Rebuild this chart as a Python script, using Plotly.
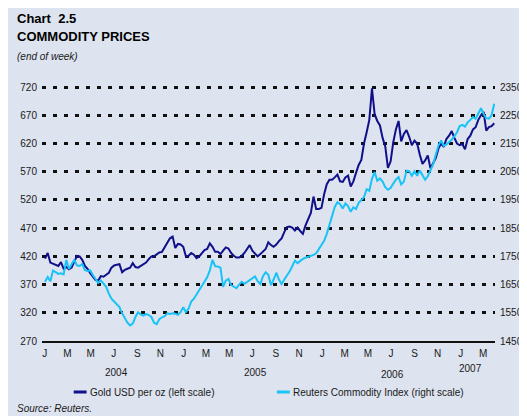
import pandas as pd
import plotly.graph_objects as go

# ---------------- data ----------------
week_ending = pd.date_range("2004-01-02", periods=170, freq="7D")

gold_usd = [
    416, 426, 409, 407, 405, 403, 410, 398, 401, 397,
    400, 412, 421, 420, 414, 403, 398, 390, 383, 378,
    377, 385, 384, 387, 391, 400, 404, 405, 406, 392,
    396, 398, 400, 408, 401, 400, 403, 406, 409, 415,
    420, 420, 423, 427, 428, 436, 445, 452, 455, 435,
    442, 441, 437, 420, 421, 426, 423, 417, 420, 425,
    431, 433, 443, 437, 428, 428, 424, 430, 436, 434,
    426, 421, 418, 418, 421, 426, 433, 440, 430, 424,
    420, 424, 429, 433, 445, 440, 437, 441, 447, 452,
    463, 472, 473, 471, 466, 471, 465, 460, 475, 485,
    497, 526, 504, 504, 506, 530, 548, 556, 556, 560,
    565, 553, 552, 560, 563, 544, 553, 568, 582, 591,
    620, 640, 662, 718, 672, 660, 652, 630, 615, 577,
    588, 622, 645, 660, 624, 637, 644, 632, 617, 625,
    620, 600, 584, 590, 599, 576, 586, 594, 611, 620,
    614, 628, 634, 642, 630, 620, 617, 619, 610, 628,
    634, 645, 649, 662, 670, 676, 643, 649, 651, 656,
]

reuters_index = [
    1660, 1677, 1662, 1700, 1694, 1688, 1690, 1686, 1737, 1705,
    1722, 1738, 1718, 1716, 1723, 1701, 1698, 1700, 1684, 1670,
    1656, 1665, 1655, 1642, 1618, 1600, 1590, 1578, 1570, 1548,
    1530, 1515, 1505, 1512, 1535, 1552, 1544, 1540, 1546, 1542,
    1535, 1515, 1510, 1527, 1534, 1538, 1548, 1546, 1548, 1547,
    1543, 1552, 1570, 1552, 1565, 1590, 1600, 1615, 1632, 1648,
    1664, 1676, 1700, 1738, 1715, 1714, 1710, 1642, 1664, 1670,
    1648, 1642, 1637, 1650, 1660, 1653, 1660, 1668, 1673, 1679,
    1662, 1652, 1680, 1694, 1685, 1648, 1668, 1692, 1668, 1652,
    1668, 1680, 1696, 1715, 1735, 1726, 1735, 1741, 1745, 1748,
    1750, 1755, 1761, 1775, 1790, 1805, 1830, 1860, 1895, 1925,
    1942, 1935, 1920, 1938, 1928, 1908, 1924, 1918, 1940, 1950,
    1960, 1988, 1982, 2025, 2049, 2018, 2026, 2015, 1995, 1986,
    1992, 2008, 2022, 2031, 2005, 2015, 2054, 2052, 2036, 2052,
    2036, 2054, 2040, 2022, 2034, 2058, 2076, 2110, 2143, 2161,
    2142, 2147, 2155, 2163, 2176, 2190, 2212, 2216, 2210, 2225,
    2234, 2244, 2238, 2255, 2275, 2255, 2240, 2238, 2250, 2291,
]

month_tick_dates = pd.date_range("2004-01-01", "2007-03-01", freq="2MS")
month_tick_labels = ["J", "M", "M", "J", "S", "N"] * 3 + ["J", "M"]
year_labels = ["2004", "2005", "2006", "2007"]
year_label_dates = ["2004-07-08", "2005-07-08", "2006-07-04", "2007-01-27"]
left_ticks = [270, 320, 370, 420, 470, 520, 570, 620, 670, 720]
right_ticks = [1450, 1550, 1650, 1750, 1850, 1950, 2050, 2150, 2250, 2350]

series_names = ["Gold USD per oz (left scale)", "Reuters Commodity Index (right scale)"]

# ---------------- styles / layout ----------------
WIDTH, HEIGHT = 527, 416
OFF = 8  # page body margin: page coords = figure coords + 8
L, R, T, B = 32, 38, 78, 83
W = WIDTH - L - R
H = HEIGHT - T - B

BG = "#dde3ef"
GOLD_C = "#10108a"
RCI_C = "#18c3f7"
TXT = "#1a1a1a"
FONT = "Liberation Sans, Arial, Helvetica, sans-serif"


def px(xpage):
    return (xpage - OFF - L) / W


def py(ypage):
    return 1 - (ypage - OFF - T) / H


fig = go.Figure()
fig.add_trace(go.Scatter(
    x=week_ending, y=gold_usd, mode="lines", name=series_names[0],
    line=dict(color=GOLD_C, width=2), yaxis="y"))
fig.add_trace(go.Scatter(
    x=week_ending, y=reuters_index, mode="lines", name=series_names[1],
    line=dict(color=RCI_C, width=2), yaxis="y2"))

fig.update_layout(
    width=WIDTH, height=HEIGHT,
    margin=dict(l=L, r=R, t=T, b=B, pad=0),
    paper_bgcolor=BG, plot_bgcolor=BG,
    showlegend=False,
    font=dict(family=FONT, size=10, color=TXT),
    xaxis=dict(
        type="date", range=["2003-12-25", "2007-04-01"],
        tickmode="array", tickvals=month_tick_dates, ticktext=month_tick_labels,
        showgrid=False, zeroline=False, ticks="",
        showline=True, linecolor="#111111", linewidth=2,
        tickfont=dict(size=10, color=TXT), ticklabelstandoff=2,
    ),
    yaxis=dict(
        range=[270, 722], tickmode="array", tickvals=left_ticks,
        showgrid=True, gridcolor="#111111", gridwidth=2.5, griddash="4px,7px",
        zeroline=False, showline=False, ticks="",
        tickfont=dict(size=10, color=TXT), ticklabelstandoff=4,
    ),
    yaxis2=dict(
        range=[1450, 2354], tickmode="array", tickvals=right_ticks,
        overlaying="y", side="right", showgrid=False, zeroline=False,
        showline=False, ticks="",
        tickfont=dict(size=10, color=TXT), ticklabelstandoff=4,
    ),
)

shapes = [
    dict(type="line", xref="paper", yref="paper",
         x0=px(72), x1=px(85), y0=py(392), y1=py(392),
         line=dict(color=GOLD_C, width=3)),
    dict(type="line", xref="paper", yref="paper",
         x0=px(277), x1=px(290), y0=py(392), y1=py(392),
         line=dict(color=RCI_C, width=3)),
]

ann = []
ann.append(dict(text="<b>Chart  2.5</b>", x=px(13), y=py(18.8), xref="paper", yref="paper",
                xanchor="left", yanchor="middle", showarrow=False,
                font=dict(size=13, color="#000000")))
ann.append(dict(text="<b>COMMODITY PRICES</b>", x=px(13), y=py(36.8), xref="paper", yref="paper",
                xanchor="left", yanchor="middle", showarrow=False,
                font=dict(size=13, color="#000000")))
ann.append(dict(text="<i>(end of week)</i>", x=px(13), y=py(57), xref="paper", yref="paper",
                xanchor="left", yanchor="middle", showarrow=False,
                font=dict(size=10, color=TXT)))
year_y = [372, 372, 374, 368]
for lab, d, yy in zip(year_labels, year_label_dates, year_y):
    ann.append(dict(text=lab, x=d, y=py(yy), xref="x", yref="paper",
                    xanchor="center", yanchor="middle", showarrow=False,
                    font=dict(size=10, color=TXT)))
ann.append(dict(text=series_names[0], x=px(86), y=py(392), xref="paper", yref="paper",
                xanchor="left", yanchor="middle", showarrow=False,
                font=dict(size=10, color=TXT)))
ann.append(dict(text=series_names[1], x=px(291), y=py(392), xref="paper", yref="paper",
                xanchor="left", yanchor="middle", showarrow=False,
                font=dict(size=10, color=TXT)))
ann.append(dict(text="<i>Source: Reuters.</i>", x=px(13), y=py(408), xref="paper", yref="paper",
                xanchor="left", yanchor="middle", showarrow=False,
                font=dict(size=10, color=TXT)))

fig.update_layout(shapes=shapes, annotations=ann)

fig.write_html("out.html")
